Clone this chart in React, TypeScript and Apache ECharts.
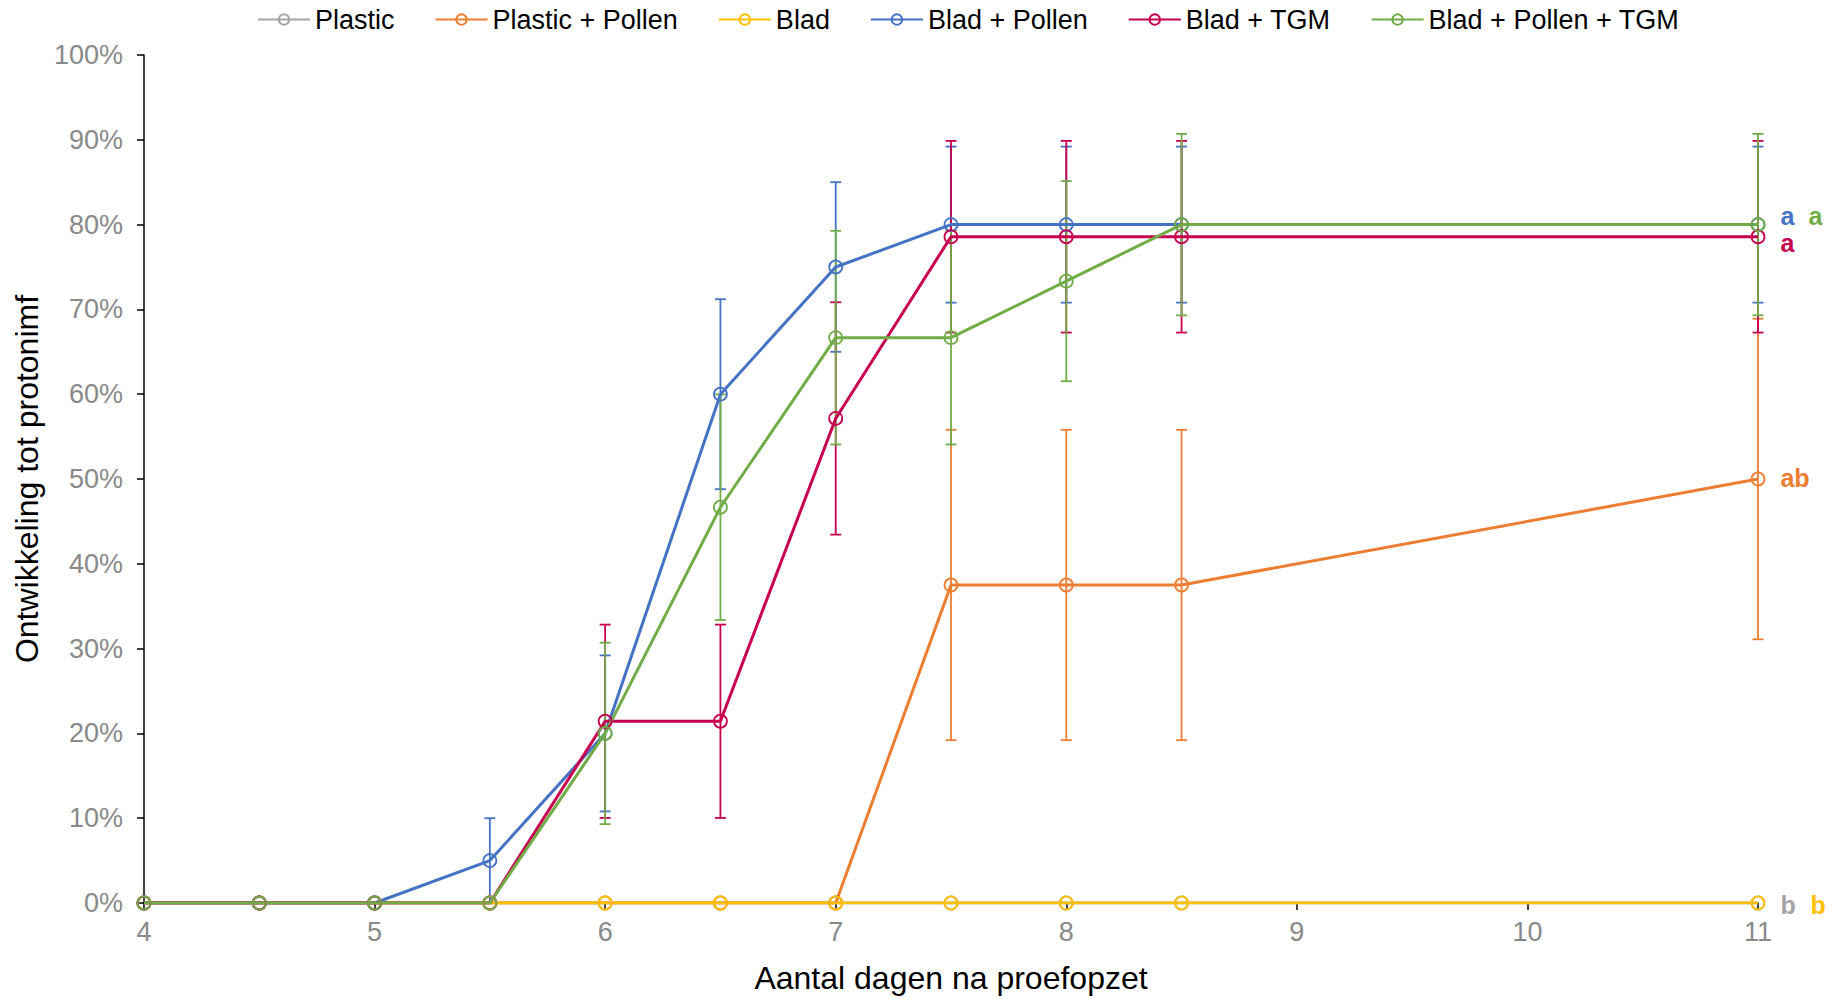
import React, { useEffect, useRef } from "react";
import * as echarts from "echarts";

const FONT = '"Liberation Sans", Arial, Helvetica, sans-serif';

// Days after start of the experiment
const days = [4, 4.5, 5, 5.5, 6, 6.5, 7, 7.5, 8, 8.5, 11];
const xTicks = [4, 5, 6, 7, 8, 9, 10, 11];

const seriesNames = [
  "Plastic",
  "Plastic + Pollen",
  "Blad",
  "Blad + Pollen",
  "Blad + TGM",
  "Blad + Pollen + TGM",
];

// Development to protonymph (%)
const plastic = [0, 0, 0, 0, 0, 0, 0, 0, 0, 0, 0];
const plasticPollen = [0, 0, 0, 0, 0, 0, 0, 37.5, 37.5, 37.5, 50];
const blad = [0, 0, 0, 0, 0, 0, 0, 0, 0, 0, 0];
const bladPollen = [0, 0, 0, 5, 20, 60, 75, 80, 80, 80, 80];
const bladTGM = [0, 0, 0, 0, 21.43, 21.43, 57.14, 78.57, 78.57, 78.57, 78.57];
const bladPollenTGM = [0, 0, 0, 0, 20, 46.67, 66.67, 66.67, 73.33, 80, 80];

// Error bar half-widths (%)
const plasticErr = [0, 0, 0, 0, 0, 0, 0, 0, 0, 0, 0];
const plasticPollenErr = [0, 0, 0, 0, 0, 0, 0, 18.3, 18.3, 18.3, 18.9];
const bladErr = [0, 0, 0, 0, 0, 0, 0, 0, 0, 0, 0];
const bladPollenErr = [0, 0, 0, 5, 9.2, 11.2, 10, 9.2, 9.2, 9.2, 9.2];
const bladTGMErr = [0, 0, 0, 0, 11.4, 11.4, 13.7, 11.3, 11.3, 11.3, 11.3];
const bladPollenTGMErr = [0, 0, 0, 0, 10.7, 13.3, 12.6, 12.6, 11.8, 10.7, 10.7];

// Significance letters at the last day
const letters = ["b", "ab", "b", "a", "a", "a"];

const valuesList = [plastic, plasticPollen, blad, bladPollen, bladTGM, bladPollenTGM];
const errList = [plasticErr, plasticPollenErr, bladErr, bladPollenErr, bladTGMErr, bladPollenTGMErr];

// styling
const colors = ["#A5A5A5", "#ED7D31", "#FFC000", "#4472C4", "#C80050", "#70AD47"];
const letterStyle = [
  { distance: 15, dy: 2 },
  { distance: 15, dy: -1 },
  { distance: 45, dy: 2 },
  { distance: 15, dy: -9 },
  { distance: 15, dy: 6 },
  { distance: 43, dy: -9 },
];

export default function App() {
  const ref = useRef<HTMLDivElement>(null);

  useEffect(() => {
    document.body.style.margin = "0";
    if (!ref.current) return;
    const chart = echarts.init(ref.current, null, { renderer: "svg" });

    const series: any[] = [];
    seriesNames.forEach((name, i) => {
      const vals = valuesList[i];
      const errs = errList[i];
      const color = colors[i];
      const lineData = days.map((d, j) => {
        if (j === days.length - 1) {
          return {
            value: [d, vals[j]],
            label: {
              show: true,
              formatter: letters[i],
              position: "right",
              distance: letterStyle[i].distance,
              offset: [0, letterStyle[i].dy],
              color,
              fontWeight: "bold",
              fontSize: 25,
              fontFamily: FONT,
            },
          };
        }
        return [d, vals[j]];
      });
      series.push({
        name,
        type: "line",
        data: lineData,
        symbol: "circle",
        symbolSize: 13,
        showAllSymbol: true,
        color,
        lineStyle: { color, width: 3 },
        itemStyle: { color: "rgba(255,255,255,0)", borderColor: color, borderWidth: 1.8 },
        emphasis: { disabled: true },
      });
      const errData = days
        .map((d, j) => [d, vals[j] - errs[j], vals[j] + errs[j], errs[j]])
        .filter((r) => r[3] > 0);
      series.push({
        name: name + " err",
        type: "custom",
        data: errData,
        encode: { x: 0, y: [1, 2] },
        silent: true,
        renderItem: (params: any, api: any) => {
          const x = api.value(0);
          const lo = api.coord([x, api.value(1)]);
          const hi = api.coord([x, api.value(2)]);
          const w = 5.5;
          const style = { stroke: color, lineWidth: 1.8 };
          return {
            type: "group",
            children: [
              { type: "line", shape: { x1: lo[0], y1: lo[1], x2: hi[0], y2: hi[1] }, style },
              { type: "line", shape: { x1: lo[0] - w, y1: lo[1], x2: lo[0] + w, y2: lo[1] }, style },
              { type: "line", shape: { x1: hi[0] - w, y1: hi[1], x2: hi[0] + w, y2: hi[1] }, style },
            ],
          };
        },
      });
    });

    chart.setOption({
      animation: false,
      textStyle: { fontFamily: FONT },
      legend: {
        data: seriesNames,
        top: 1,
        left: 252,
        itemWidth: 52,
        itemHeight: 13,
        itemGap: 40,
        textStyle: { fontSize: 27, color: "#000", fontFamily: FONT },
        selectedMode: false,
      },
      grid: { left: 144, right: 83, top: 55, bottom: 91 },
      xAxis: {
        type: "value",
        min: xTicks[0],
        max: xTicks[xTicks.length - 1],
        interval: 1,
        name: "Aantal dagen na proefopzet",
        nameLocation: "middle",
        nameGap: 59,
        nameTextStyle: { fontSize: 32, color: "#000", fontFamily: FONT },
        axisLine: { show: true, onZero: false, lineStyle: { color: "#000", width: 1.5 } },
        axisTick: { show: true, length: 7, lineStyle: { color: "#000", width: 1.5 } },
        axisLabel: { fontSize: 27, color: "#898989", margin: 15, fontFamily: FONT },
        splitLine: { show: false },
      },
      yAxis: {
        type: "value",
        min: 0,
        max: 100,
        interval: 10,
        name: "Ontwikkeling tot protonimf",
        nameLocation: "middle",
        nameGap: 101,
        nameTextStyle: { fontSize: 32, color: "#000", fontFamily: FONT },
        axisLine: { show: true, lineStyle: { color: "#000", width: 1.5 } },
        axisTick: { show: true, length: 7, lineStyle: { color: "#000", width: 1.5 } },
        axisLabel: { fontSize: 27, color: "#898989", margin: 21, formatter: "{value}%", fontFamily: FONT },
        splitLine: { show: false },
      },
      series,
    });

    return () => chart.dispose();
  }, []);

  return <div ref={ref} style={{ width: 1841, height: 999 }} />;
}
